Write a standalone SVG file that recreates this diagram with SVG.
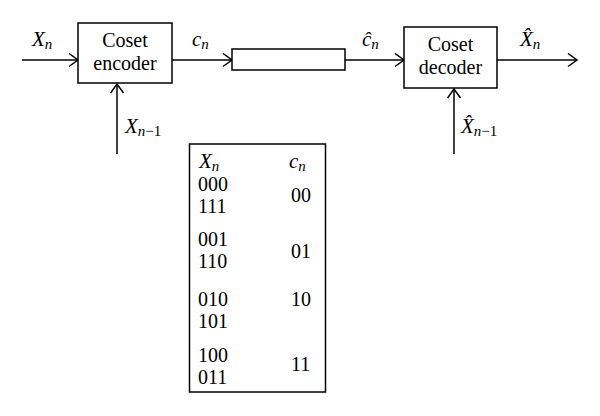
<svg xmlns="http://www.w3.org/2000/svg" width="600" height="416" viewBox="0 0 600 416">
<defs>
<marker id="arr" markerUnits="userSpaceOnUse" markerWidth="14" markerHeight="16" refX="11" refY="7" orient="auto">
<path d="M2,0.5 L11,7 L2,13.5" fill="none" stroke="#000" stroke-width="1.5"/>
</marker>
<style>
.box{fill:#fff;stroke:#000;stroke-width:1.5}
.ln{fill:none;stroke:#000;stroke-width:1.5;marker-end:url(#arr)}
text{font-family:"Liberation Serif","DejaVu Serif",serif;fill:#000}
.lbl{font-size:20px}
.it{font-style:italic;font-size:21px}
.sub{font-style:italic;font-size:15px}
.up{font-style:normal;font-size:15px}
.tb{font-size:20px}
</style>
</defs>
<rect width="600" height="416" fill="#fff"/>
<g id="connectors">
<line class="ln" x1="22" y1="60" x2="78" y2="60"/>
<line class="ln" x1="172" y1="60" x2="232" y2="60"/>
<line class="ln" x1="345" y1="60" x2="404" y2="60"/>
<line class="ln" x1="497" y1="60" x2="577" y2="60"/>
<line class="ln" x1="117" y1="154" x2="117" y2="84"/>
<line class="ln" x1="454" y1="154" x2="454" y2="89"/>
</g>
<g id="encoder">
<rect class="box" x="78" y="23" width="94" height="60"/>
<text class="lbl" x="125" y="47" text-anchor="middle">Coset</text>
<text class="lbl" x="125" y="70" text-anchor="middle">encoder</text>
</g>
<g id="channel">
<rect class="box" x="232" y="49" width="113" height="21"/>
</g>
<g id="decoder">
<rect class="box" x="404" y="27" width="93" height="61"/>
<text class="lbl" x="450.5" y="51" text-anchor="middle">Coset</text>
<text class="lbl" x="450.5" y="74" text-anchor="middle">decoder</text>
</g>
<g id="labels">
<text x="32" y="46"><tspan class="it">X</tspan><tspan class="sub" dy="3">n</tspan></text>
<text x="192" y="46"><tspan class="it">c</tspan><tspan class="sub" dy="3">n</tspan></text>
<text x="125" y="133"><tspan class="it">X</tspan><tspan class="sub" dy="3">n</tspan><tspan class="up">−1</tspan></text>
<text x="362" y="46"><tspan class="it">c&#x302;</tspan><tspan class="sub" dy="3">n</tspan></text>
<text x="520" y="46"><tspan class="it">X&#x302;</tspan><tspan class="sub" dy="3">n</tspan></text>
<text x="461" y="133"><tspan class="it">X&#x302;</tspan><tspan class="sub" dy="3">n</tspan><tspan class="up">−1</tspan></text>
</g>
<g id="table">
<rect class="box" x="189.5" y="144" width="136" height="248"/>
<text x="199" y="168"><tspan class="it">X</tspan><tspan class="sub" dy="3">n</tspan></text>
<text x="289" y="168"><tspan class="it">c</tspan><tspan class="sub" dy="3">n</tspan></text>
<text class="tb" x="198" y="191">000</text>
<text class="tb" x="198" y="213">111</text>
<text class="tb" x="291" y="202">00</text>
<text class="tb" x="198" y="246">001</text>
<text class="tb" x="198" y="268">110</text>
<text class="tb" x="291" y="258">01</text>
<text class="tb" x="198" y="306">010</text>
<text class="tb" x="198" y="328">101</text>
<text class="tb" x="291" y="306">10</text>
<text class="tb" x="198" y="362">100</text>
<text class="tb" x="198" y="384">011</text>
<text class="tb" x="291" y="371">11</text>
</g>
</svg>
